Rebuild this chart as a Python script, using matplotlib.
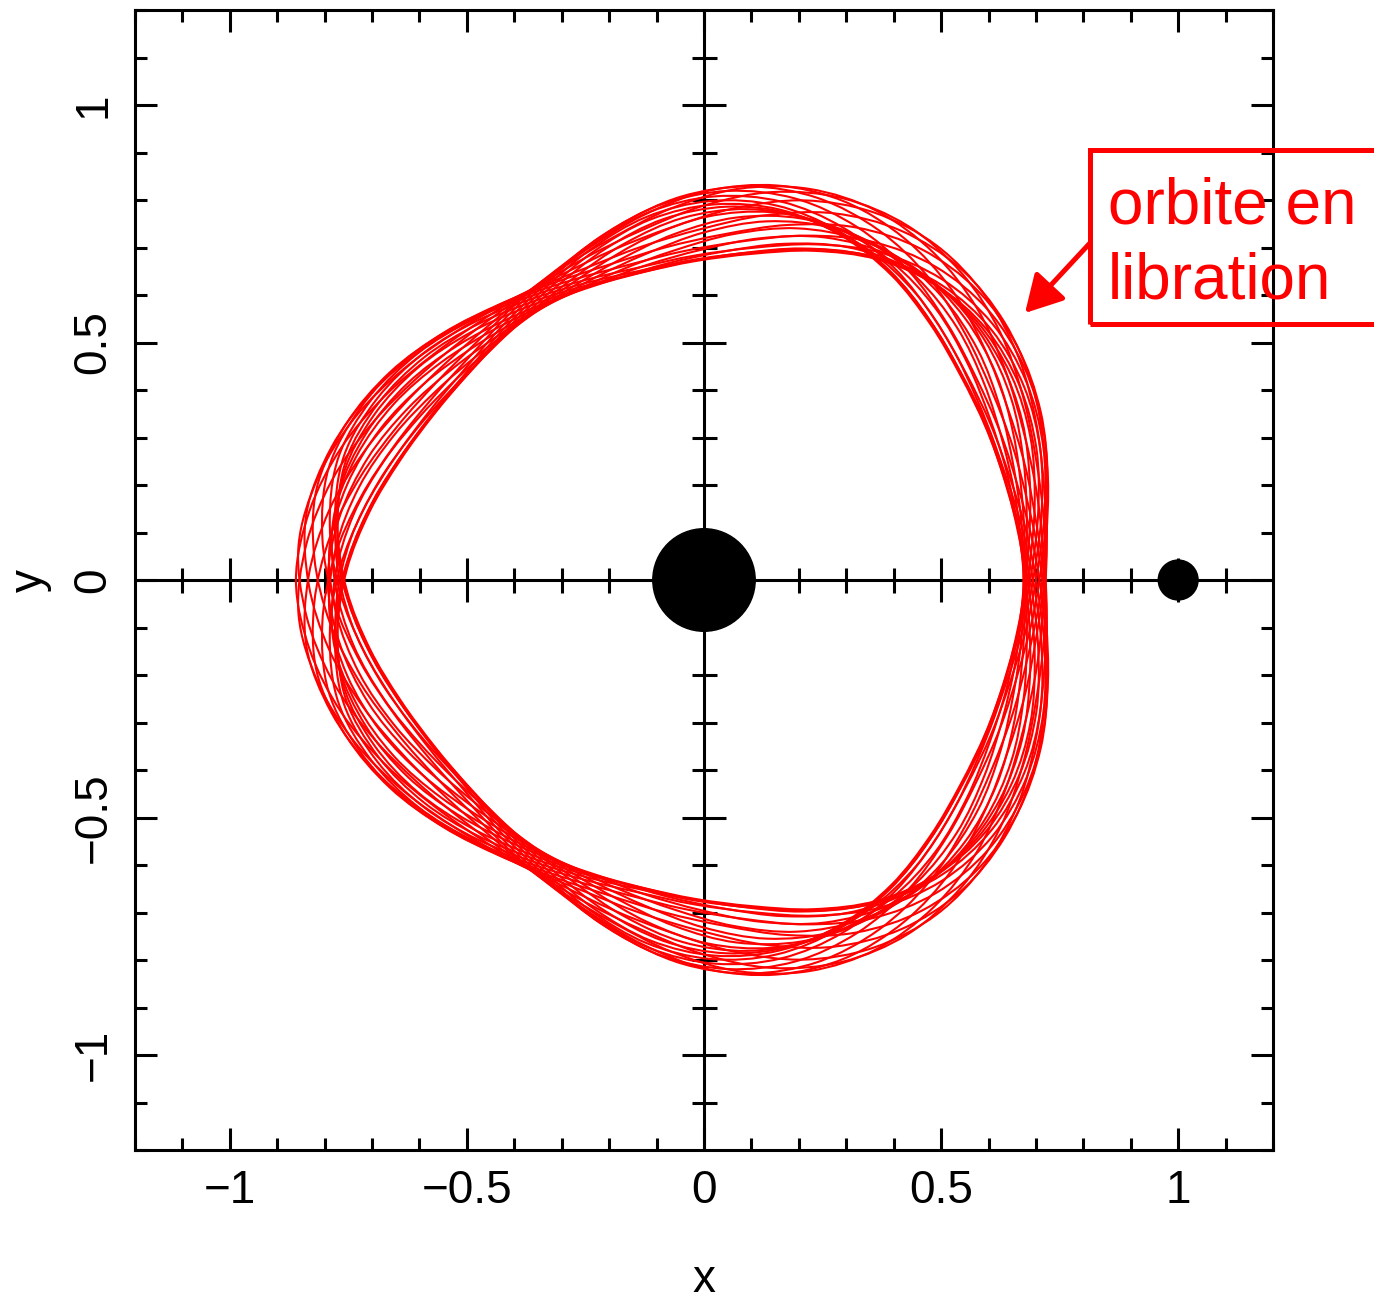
import numpy as np
import matplotlib.pyplot as plt
from matplotlib.path import Path
from matplotlib.patches import PathPatch, Circle, Rectangle, FancyArrowPatch
from matplotlib.ticker import MultipleLocator, FuncFormatter

plt.rcParams['font.family'] = ['Liberation Sans', 'DejaVu Sans']

# mean loop of the librating orbit in the rotating frame (upper half,
# mirrored below the x axis): azimuth in degrees, distance to the sun
loop_angle_deg = [0, 10, 20, 30, 40, 50, 60, 70, 80, 90,
                  100, 110, 120, 130, 140, 150, 160, 170, 180]
loop_radius = [0.685, 0.692, 0.708, 0.737, 0.772, 0.800, 0.815, 0.810, 0.786, 0.748,
               0.711, 0.688, 0.677, 0.684, 0.705, 0.737, 0.772, 0.800, 0.815]
r_flat = 0.67

# libration state of each successive loop: rotation (deg), corner stretch
# and radial offset
libration_shift_deg = [0.0, 4.9, 9.5, 13.4, 16.5, 18.4, 19.0, 18.4, 16.5, 13.4, 9.5, 4.9,
                       0.0, -4.9, -9.5, -13.4, -16.5, -18.4, -19.0, -18.4, -16.5, -13.4, -9.5, -4.9]
libration_stretch = [1.080, 1.077, 1.069, 1.057, 1.040, 1.021, 1.000, 0.979, 0.960, 0.943, 0.931, 0.923,
                     0.920, 0.923, 0.931, 0.943, 0.960, 0.979, 1.000, 1.021, 1.040, 1.057, 1.069, 1.077]
libration_offset = [0.034, 0.032, 0.025, 0.016, 0.005, -0.005, -0.012, -0.016, -0.017, -0.016,
                    -0.013, -0.011, -0.010, -0.011, -0.013, -0.016, -0.017, -0.016, -0.012, -0.005,
                    0.005, 0.016, 0.025, 0.032]

sun_xy, sun_radius = (0.0, 0.0), 0.108
planet_xy, planet_radius = (1.0, 0.0), 0.042

RED = '#ff0000'


def smooth_closed_path(pts):
    # closed Catmull-Rom curve through the points, as cubic Bezier segments
    n = len(pts)
    verts = [pts[0]]
    codes = [Path.MOVETO]
    for i in range(n):
        p0, p1 = pts[i - 1], pts[i]
        p2, p3 = pts[(i + 1) % n], pts[(i + 2) % n]
        verts += [p1 + (p2 - p0) / 6, p2 - (p3 - p1) / 6, p2]
        codes += [Path.CURVE4] * 3
    return Path(verts, codes)


fig = plt.figure(figsize=(13.74, 13.01), dpi=100)
ax = fig.add_axes([135 / 1374, 151 / 1301, 1138 / 1374, 1140 / 1301])

# full loop: upper half plus its mirror image
ang = np.array(loop_angle_deg + [360 - a for a in loop_angle_deg[-2:0:-1]], dtype=float)
rad = np.array(loop_radius + loop_radius[-2:0:-1])

for shift, stretch, off in zip(libration_shift_deg, libration_stretch, libration_offset):
    th = np.radians(ang + shift)
    rr = r_flat + stretch * (rad - r_flat) + off
    pts = np.column_stack([rr * np.cos(th), rr * np.sin(th)])
    ax.add_patch(PathPatch(smooth_closed_path(pts), fill=False, ec=RED, lw=1.5, zorder=3))

# axes through the origin with their own tick marks
ax.axhline(0, color='k', lw=2.2, zorder=1)
ax.axvline(0, color='k', lw=2.2, zorder=1)
minor = np.round(np.arange(-1.1, 1.11, 0.1), 2)
minor = minor[(np.abs(minor) > 1e-9) & (np.abs(np.round(minor * 2) - minor * 2) > 1e-6)]
major = np.array([-1.0, -0.5, 0.5, 1.0])
zeros_mi, zeros_ma = np.zeros_like(minor), np.zeros_like(major)
ax.plot(minor, zeros_mi, ls='none', marker='|', ms=18, mew=2.2, color='k', zorder=2)
ax.plot(major, zeros_ma, ls='none', marker='|', ms=32, mew=2.2, color='k', zorder=2)
ax.plot(zeros_mi, minor, ls='none', marker='_', ms=18, mew=2.2, color='k', zorder=2)
ax.plot(zeros_ma, major, ls='none', marker='_', ms=32, mew=2.2, color='k', zorder=2)

ax.add_patch(Circle(sun_xy, sun_radius, color='k', zorder=5))
ax.add_patch(Circle(planet_xy, planet_radius, color='k', zorder=5))

ax.set_xlim(-1.2, 1.2)
ax.set_ylim(-1.2, 1.2)
for side in ax.spines.values():
    side.set_linewidth(2.2)

fmt = FuncFormatter(lambda v, p: f'{v:g}'.replace('-', '\u2212'))
for axis in (ax.xaxis, ax.yaxis):
    axis.set_major_locator(MultipleLocator(0.5))
    axis.set_minor_locator(MultipleLocator(0.1))
    axis.set_major_formatter(fmt)
ax.tick_params(which='both', direction='in', top=True, right=True, width=2.2, labelsize=33)
ax.tick_params(which='major', length=16, pad=14)
ax.tick_params(which='minor', length=8.5)
ax.tick_params(axis='y', labelrotation=90)
for lab in ax.get_yticklabels():
    lab.set_va('center')

ax.set_xlabel('x', fontsize=33, labelpad=32)
ax.set_ylabel('y', fontsize=33, labelpad=14)

# label box with its arrow
fig.add_artist(Rectangle((1090 / 1374, 1 - 324 / 1301), 0.3, 174 / 1301,
                         transform=fig.transFigure, fill=False, ec=RED, lw=3.6, clip_on=False))
fig.text(1108 / 1374, 1 - 223 / 1301, 'orbite en', color=RED, fontsize=46, va='baseline')
fig.text(1108 / 1374, 1 - 299 / 1301, 'libration', color=RED, fontsize=46, va='baseline')
fig.add_artist(FancyArrowPatch((1090 / 1374, 1 - 243 / 1301), (1025 / 1374, 1 - 313 / 1301),
                               transform=fig.transFigure, arrowstyle='-|>,head_length=0.5,head_width=0.28',
                               mutation_scale=45, lw=3.6, color=RED, shrinkA=0, shrinkB=0))

fig.savefig('out.png', dpi=100)
